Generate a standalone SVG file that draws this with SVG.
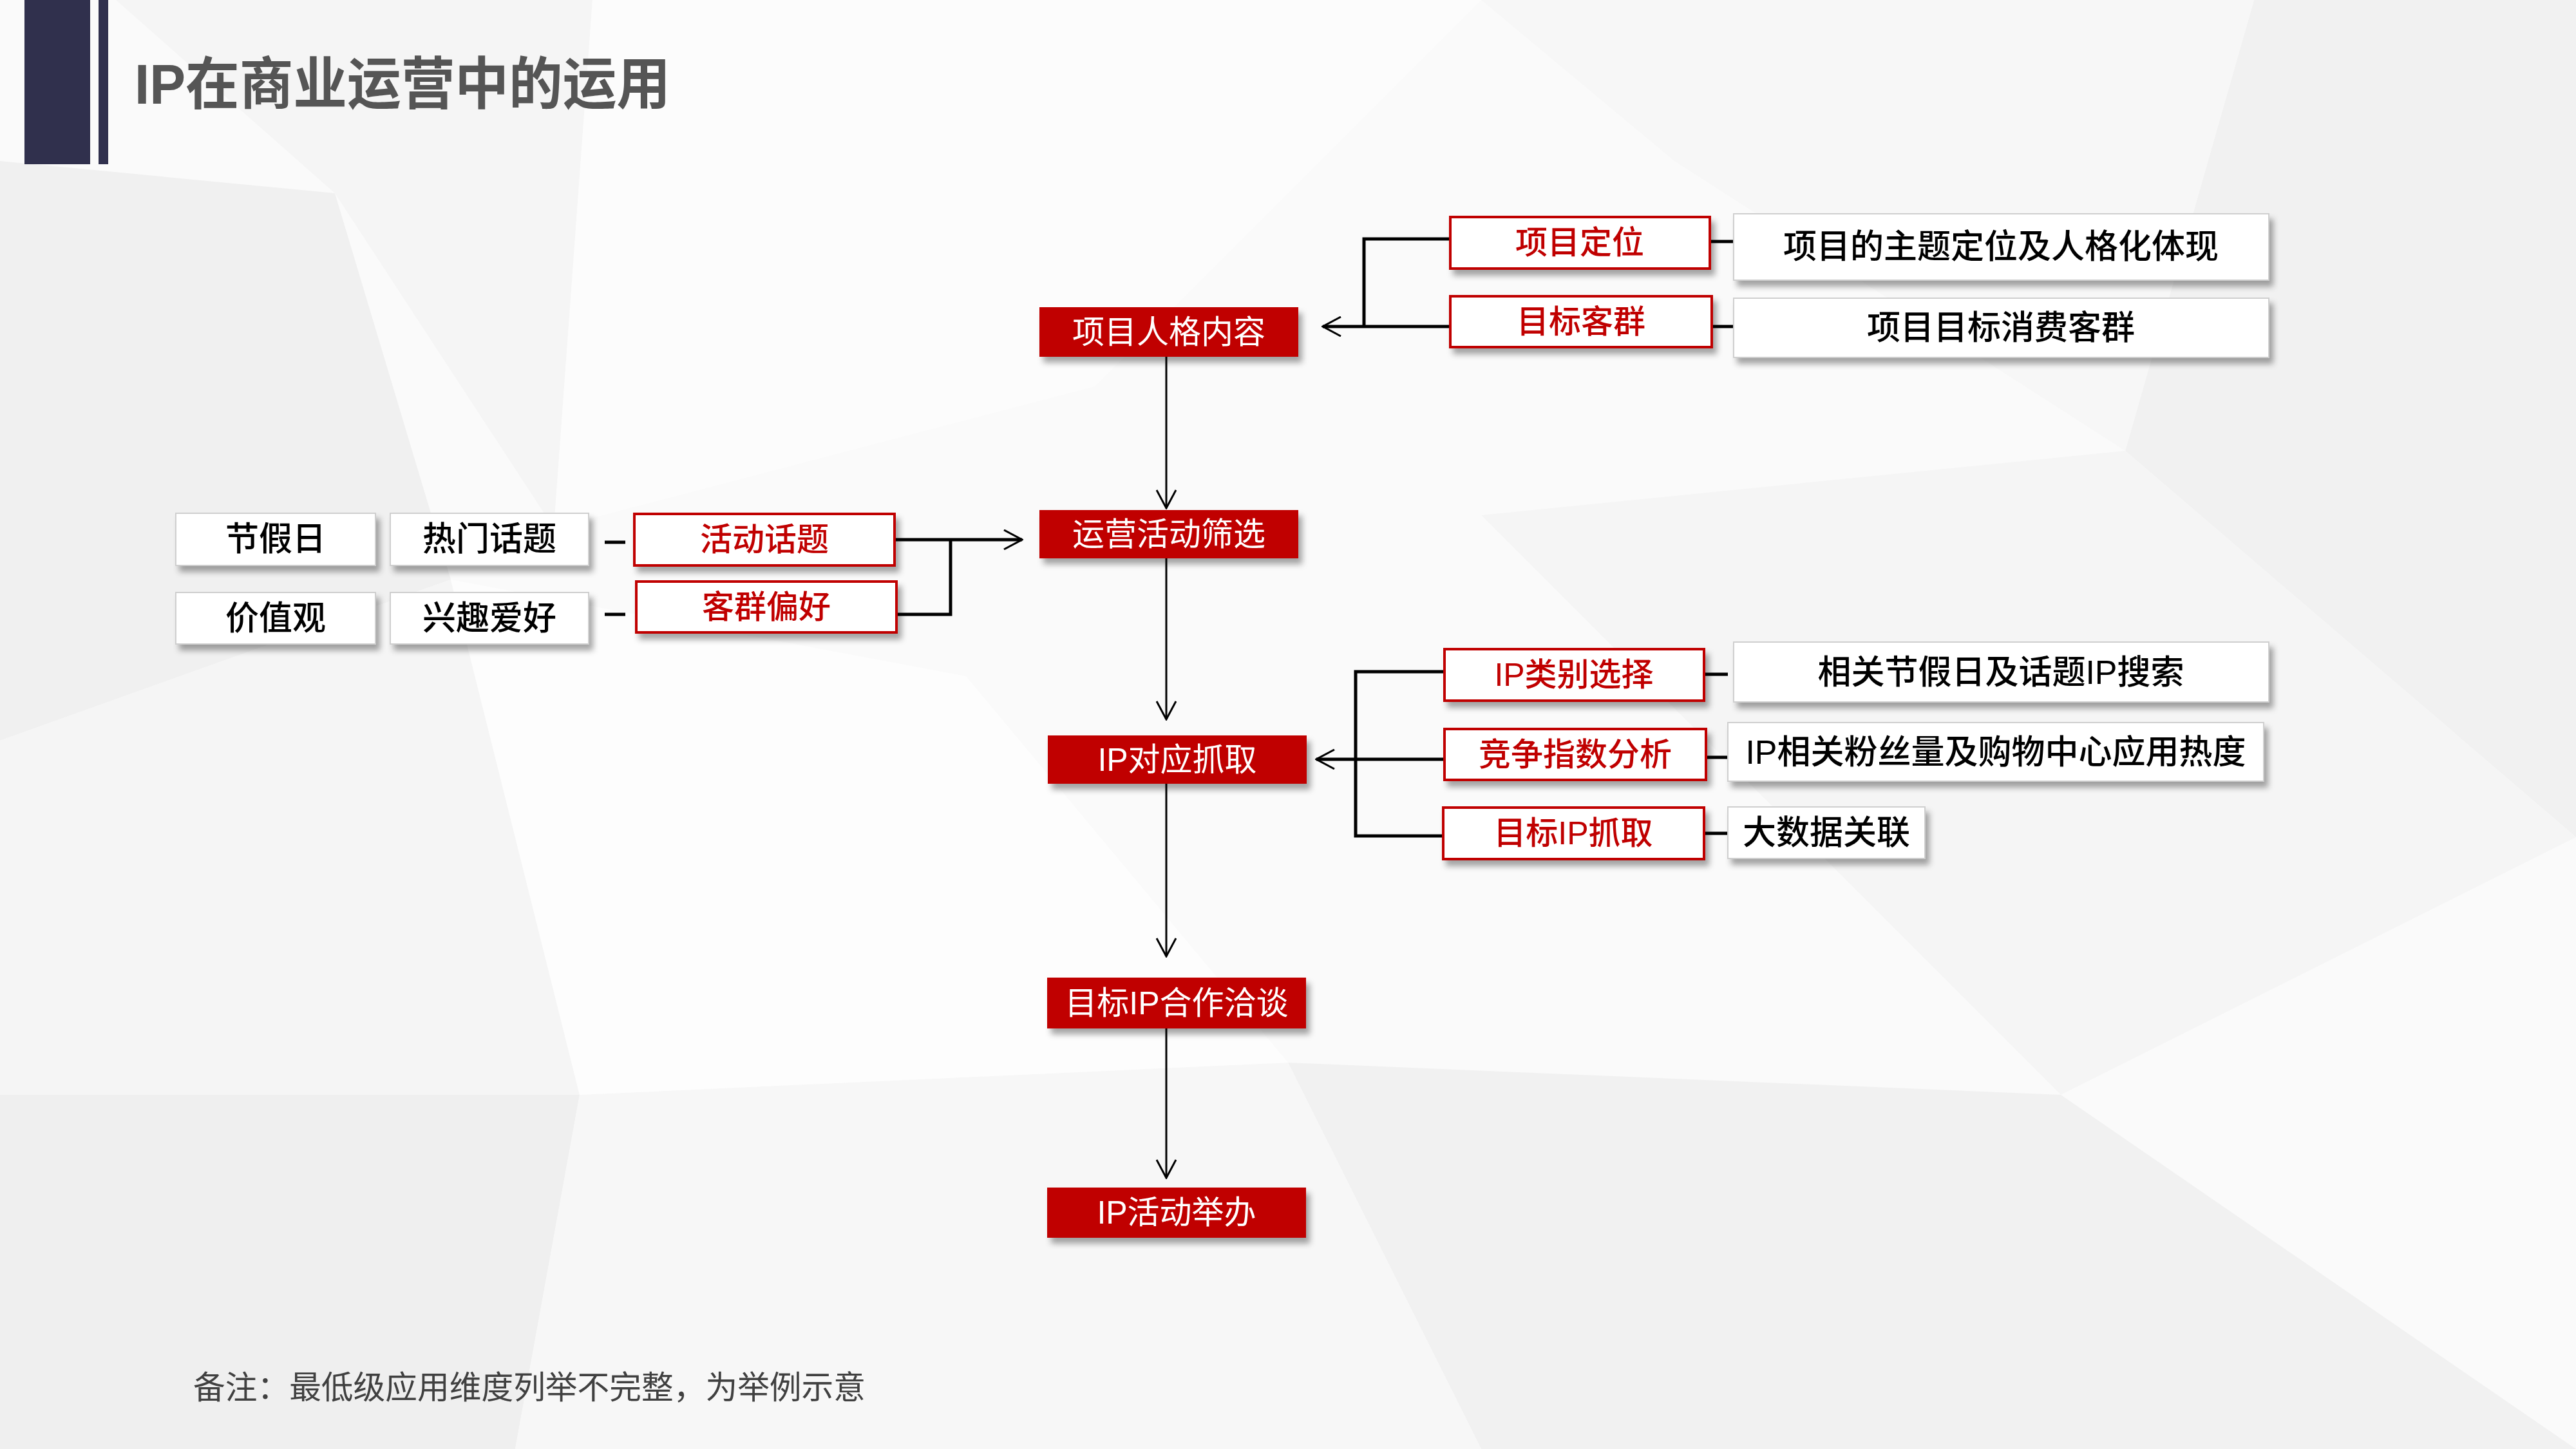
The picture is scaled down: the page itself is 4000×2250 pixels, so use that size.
<svg xmlns="http://www.w3.org/2000/svg" width="4000" height="2250" viewBox="0 0 4000 2250">
<defs>
<style>
.t{font-family:"Liberation Sans","Noto Sans CJK SC",sans-serif;text-anchor:middle}
.red rect{fill:#C00000}
.red text{fill:#ffffff;font-size:50px}
.rb rect{fill:#ffffff;stroke:#C00000;stroke-width:4}
.rb text{fill:#C00000;font-size:50px;font-weight:500}
.wb rect{fill:#ffffff;stroke:#cfcfcf;stroke-width:2}
.wb text{fill:#000000;font-size:52px;font-weight:500}
.ln{stroke:#000;stroke-width:5;fill:none}
.fl{stroke:#000;stroke-width:3;fill:none}
</style>
<filter id="sh" x="-10%" y="-20%" width="125%" height="160%">
<feDropShadow dx="6" dy="9" stdDeviation="5" flood-color="#000" flood-opacity="0.35"/>
</filter>
<marker id="ah" viewBox="0 0 32 32" refX="30" refY="16" markerWidth="32" markerHeight="32" markerUnits="userSpaceOnUse" orient="auto">
<path d="M2,1 L30,16 L2,31" fill="none" stroke="#000" stroke-width="3"/>
</marker>
</defs>
<g id="background">
<rect width="4000" height="2250" fill="#fafafa"/>
<polygon points="0,250 520,300 700,900 0,1150" fill="#f0f0f0"/>
<polygon points="180,0 920,0 860,820 520,300" fill="#f5f5f5"/>
<polygon points="0,1150 700,900 900,1700 0,1700" fill="#f5f5f5"/>
<polygon points="0,1700 900,1700 800,2250 0,2250" fill="#efefef"/>
<polygon points="920,0 2300,0 1700,600 860,820" fill="#fcfcfc"/>
<polygon points="3500,0 4000,0 4000,1300 3300,700" fill="#f1f1f1"/>
<polygon points="2300,0 3500,0 3300,700 2600,250" fill="#f7f7f7"/>
<polygon points="2300,800 3300,700 4000,1300 3200,1700" fill="#f5f5f5"/>
<polygon points="2000,1650 3200,1700 4000,2250 2300,2250" fill="#f1f1f1"/>
<polygon points="900,1700 2000,1650 2300,2250 800,2250" fill="#f7f7f7"/>
<polygon points="700,900 1500,1050 2000,1650 900,1700" fill="#fdfdfd"/>
</g>
<g id="header">
<rect x="38" y="0" width="102" height="255" fill="#30304d"/>
<rect x="153" y="0" width="15" height="255" fill="#30304d"/>
<text x="209" y="161" font-family="Liberation Sans, Noto Sans CJK SC, sans-serif" font-size="88" font-weight="bold" fill="#555555" textLength="832" lengthAdjust="spacingAndGlyphs">IP在商业运营中的运用</text>
</g>
<g id="connectors">
<line class="fl" x1="1811" y1="554" x2="1811" y2="789" marker-end="url(#ah)"/>
<line class="fl" x1="1811" y1="867" x2="1811" y2="1117" marker-end="url(#ah)"/>
<line class="fl" x1="1811" y1="1217" x2="1811" y2="1485" marker-end="url(#ah)"/>
<line class="fl" x1="1811" y1="1597" x2="1811" y2="1829" marker-end="url(#ah)"/>
<polyline class="ln" points="2252,371 2118,371 2118,507"/>
<line class="ln" x1="2252" y1="507" x2="2054" y2="507" marker-end="url(#ah)"/>
<line class="ln" x1="2655" y1="375" x2="2692" y2="375"/>
<line class="ln" x1="2658" y1="507" x2="2692" y2="507"/>
<line class="ln" x1="1389" y1="838" x2="1587" y2="838" marker-end="url(#ah)"/>
<polyline class="ln" points="1392,954 1476,954 1476,838"/>
<line class="ln" x1="939" y1="842" x2="971" y2="842"/>
<line class="ln" x1="939" y1="954" x2="971" y2="954"/>
<polyline class="ln" points="2243,1043 2105,1043 2105,1298 2241,1298"/>
<line class="ln" x1="2243" y1="1179" x2="2044" y2="1179" marker-end="url(#ah)"/>
<line class="ln" x1="2646" y1="1047" x2="2683" y2="1047"/>
<line class="ln" x1="2649" y1="1176" x2="2683" y2="1176"/>
<line class="ln" x1="2646" y1="1294" x2="2683" y2="1294"/>
</g>
<g id="n-xiangmurenge" class="red"><rect x="1614" y="477" width="402" height="77" filter="url(#sh)"/><text class="t" x="1815" y="533">项目人格内容</text></g>
<g id="n-yunying" class="red"><rect x="1614" y="792" width="402" height="75" filter="url(#sh)"/><text class="t" x="1815" y="847">运营活动筛选</text></g>
<g id="n-ipduiying" class="red"><rect x="1627" y="1142" width="402" height="75" filter="url(#sh)"/><text class="t" x="1828" y="1197">IP对应抓取</text></g>
<g id="n-hezuo" class="red"><rect x="1626" y="1518" width="402" height="79" filter="url(#sh)"/><text class="t" x="1827" y="1575">目标IP合作洽谈</text></g>
<g id="n-juban" class="red"><rect x="1626" y="1844" width="402" height="78" filter="url(#sh)"/><text class="t" x="1827" y="1900">IP活动举办</text></g>
<g id="n-dingwei" class="rb"><rect x="2252" y="337" width="403" height="80" filter="url(#sh)"/><text class="t" x="2453" y="394">项目定位</text></g>
<g id="n-kequn" class="rb"><rect x="2252" y="460" width="406" height="79" filter="url(#sh)"/><text class="t" x="2455" y="517">目标客群</text></g>
<g id="n-huodong" class="rb"><rect x="985" y="798" width="404" height="80" filter="url(#sh)"/><text class="t" x="1187" y="855">活动话题</text></g>
<g id="n-pianhao" class="rb"><rect x="988" y="903" width="404" height="79" filter="url(#sh)"/><text class="t" x="1190" y="960">客群偏好</text></g>
<g id="n-leibie" class="rb"><rect x="2243" y="1008" width="403" height="80" filter="url(#sh)"/><text class="t" x="2444" y="1065">IP类别选择</text></g>
<g id="n-jingzheng" class="rb"><rect x="2243" y="1132" width="406" height="79" filter="url(#sh)"/><text class="t" x="2446" y="1189">竞争指数分析</text></g>
<g id="n-zhuaqu" class="rb"><rect x="2241" y="1254" width="405" height="80" filter="url(#sh)"/><text class="t" x="2443" y="1311">目标IP抓取</text></g>
<g id="n-zhuti" class="wb"><rect x="2692" y="332" width="831" height="103" filter="url(#sh)"/><text class="t" x="3107" y="401">项目的主题定位及人格化体现</text></g>
<g id="n-xiaofei" class="wb"><rect x="2692" y="463" width="831" height="92" filter="url(#sh)"/><text class="t" x="3107" y="527">项目目标消费客群</text></g>
<g id="n-jiajiari" class="wb"><rect x="273" y="797" width="310" height="81" filter="url(#sh)"/><text class="t" x="428" y="855">节假日</text></g>
<g id="n-remen" class="wb"><rect x="606" y="797" width="308" height="81" filter="url(#sh)"/><text class="t" x="760" y="855">热门话题</text></g>
<g id="n-jiazhi" class="wb"><rect x="273" y="920" width="310" height="80" filter="url(#sh)"/><text class="t" x="428" y="978">价值观</text></g>
<g id="n-xingqu" class="wb"><rect x="606" y="920" width="308" height="80" filter="url(#sh)"/><text class="t" x="760" y="978">兴趣爱好</text></g>
<g id="n-sousuo" class="wb"><rect x="2692" y="997" width="831" height="93" filter="url(#sh)"/><text class="t" x="3107" y="1062">相关节假日及话题IP搜索</text></g>
<g id="n-fensi" class="wb"><rect x="2683" y="1122" width="832" height="91" filter="url(#sh)"/><text class="t" x="3099" y="1186">IP相关粉丝量及购物中心应用热度</text></g>
<g id="n-dashuju" class="wb"><rect x="2683" y="1253" width="306" height="80" filter="url(#sh)"/><text class="t" x="2836" y="1311">大数据关联</text></g>
<g id="footnote">
<text x="300" y="2172" font-family="Liberation Sans, Noto Sans CJK SC, sans-serif" font-size="50" fill="#404040" textLength="1044" lengthAdjust="spacingAndGlyphs">备注：最低级应用维度列举不完整，为举例示意</text>
</g>
</svg>
